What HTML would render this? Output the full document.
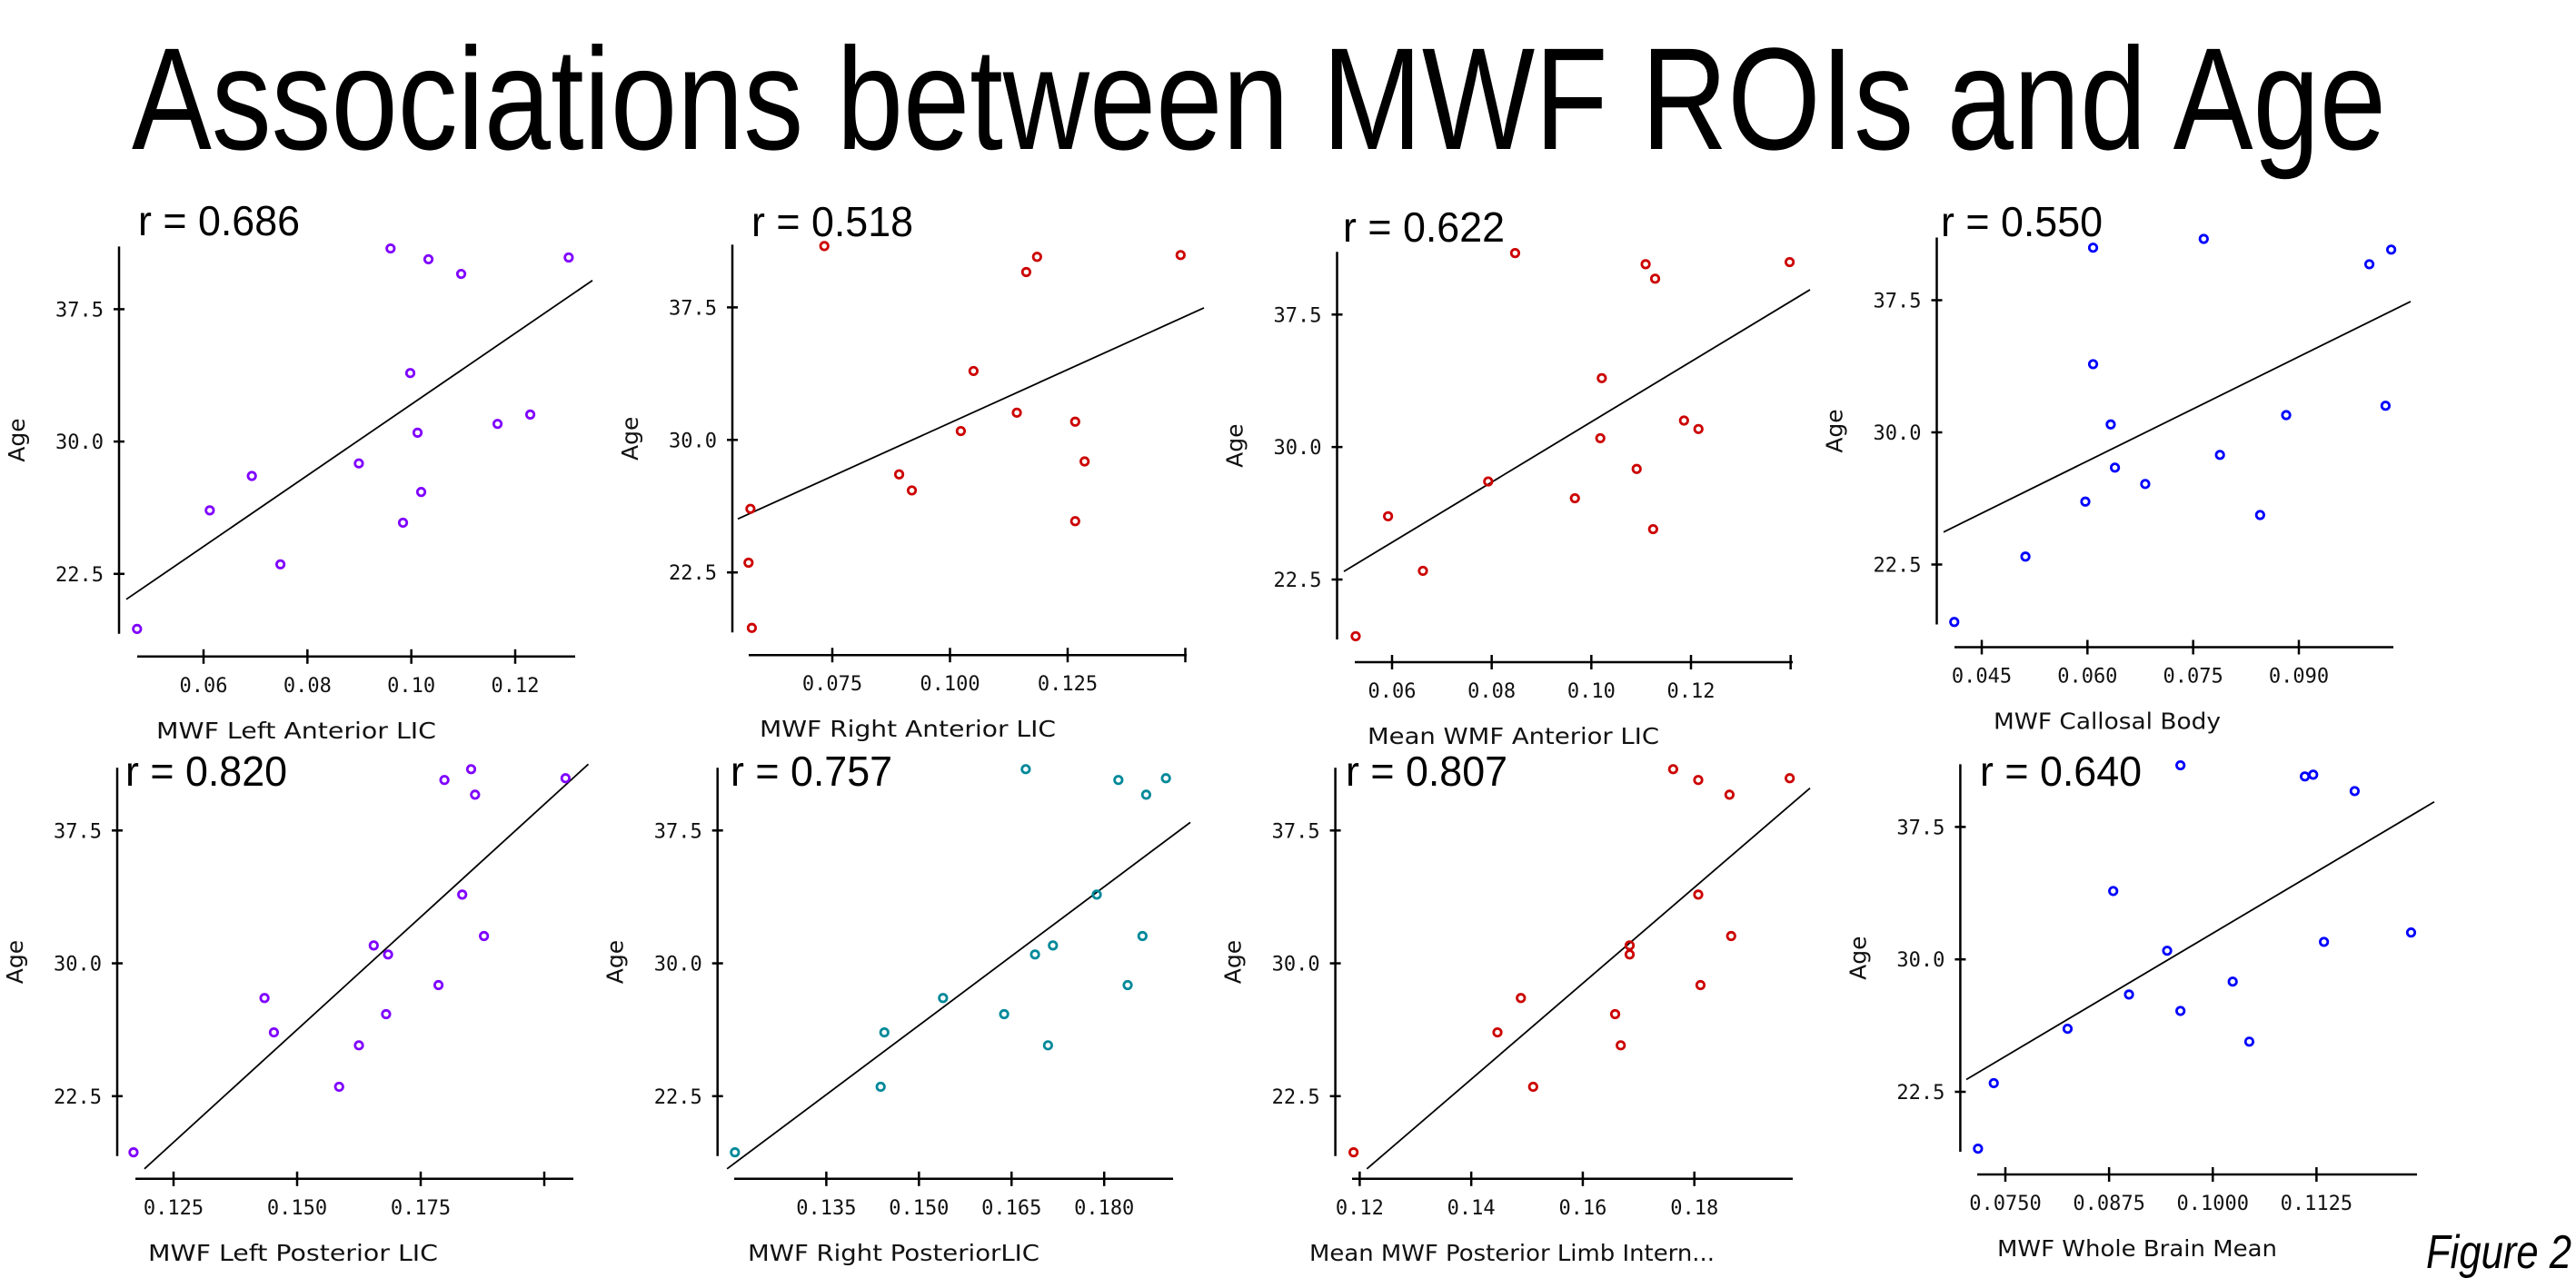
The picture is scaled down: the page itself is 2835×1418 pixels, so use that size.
<!DOCTYPE html>
<html><head><meta charset="utf-8"><style>
html,body{margin:0;padding:0;background:#fff;width:2835px;height:1418px;overflow:hidden;}
svg{display:block;}
.tk{font-family:"DejaVu Sans Mono","Liberation Mono",monospace;font-size:22px;fill:#111;}
.ax{font-family:"DejaVu Sans","Liberation Sans",sans-serif;font-size:25px;fill:#111;}
</style></head>
<body>
<svg id="fig" width="2835" height="1418" viewBox="0 0 2835 1418" xmlns="http://www.w3.org/2000/svg" overflow="hidden">
<text x="145" y="164" font-family="Liberation Sans, sans-serif" font-size="160" textLength="2481" lengthAdjust="spacingAndGlyphs" fill="#000">Associations between MWF ROIs and Age</text>
<text x="2670" y="1396" font-family="Liberation Sans, sans-serif" font-style="italic" font-size="52" textLength="160" lengthAdjust="spacingAndGlyphs" fill="#000">Figure 2</text>
<g id="panels"></g>
</svg>
<script>
// ---- data ----
const p1X = [0.0472,0.0612,0.0693,0.0748,0.0899,0.0960,0.0984,0.0998,0.1012,0.1019,0.1033,0.1096,0.1166,0.1229,0.1303];
const p1Y = [19.38,26.10,28.05,23.04,28.76,40.94,25.40,33.88,30.50,27.14,40.33,39.50,31.00,31.53,40.43];
const p2X = [0.0579,0.0572,0.0576,0.0733,0.0892,0.0919,0.1023,0.1050,0.1142,0.1162,0.1185,0.1266,0.1266,0.1286,0.1490];
const p2Y = [19.36,23.05,26.10,40.97,28.05,27.14,30.50,33.90,31.54,39.50,40.36,31.03,25.40,28.78,40.46];
const p3X = [0.0527,0.0592,0.0662,0.0793,0.0847,0.0967,0.1018,0.1021,0.1091,0.1109,0.1124,0.1128,0.1186,0.1215,0.1398];
const p3Y = [19.29,26.08,22.99,28.05,40.98,27.10,30.50,33.90,28.76,40.35,25.35,39.53,31.50,31.02,40.47];
const p4X = [0.0411,0.0512,0.0597,0.0608,0.0608,0.0633,0.0639,0.0682,0.0765,0.0788,0.0845,0.0882,0.1000,0.1023,0.1031];
const p4Y = [19.24,22.95,26.07,40.48,33.87,30.45,28.00,27.07,40.98,28.72,25.31,30.98,39.54,31.51,40.37];
const p5X = [0.1169,0.1585,0.1434,0.1453,0.1625,0.1680,0.1655,0.1684,0.1786,0.1834,0.1878,0.1798,0.1852,0.1860,0.2043];
const p5Y = [19.33,23.03,28.04,26.10,25.37,27.13,31.01,30.50,28.77,33.88,31.54,40.35,40.96,39.52,40.45];
const p6X = [0.1202,0.1438,0.1444,0.1539,0.1638,0.1673,0.1688,0.1709,0.1717,0.1788,0.1823,0.1838,0.1862,0.1868,0.1900];
const p6Y = [19.33,23.03,26.10,28.04,27.13,40.96,30.50,25.37,31.01,33.88,40.35,28.77,31.54,39.52,40.45];
const p7X = [0.1189,0.1447,0.1489,0.1511,0.1658,0.1668,0.1684,0.1684,0.1762,0.1807,0.1807,0.1811,0.1863,0.1866,0.1971];
const p7Y = [19.33,26.10,28.04,23.03,27.13,25.37,31.01,30.50,40.96,40.35,33.88,28.77,39.52,31.54,40.45];
const p8X = [0.0717,0.0736,0.0825,0.0880,0.0899,0.0945,0.0961,0.0961,0.1024,0.1044,0.1111,0.1121,0.1134,0.1171,0.1239];
const p8Y = [19.28,22.99,26.07,33.87,28.01,30.49,40.99,27.08,28.74,25.34,40.36,40.46,30.99,39.53,31.52];
const rLabels = ["r = 0.686","r = 0.518","r = 0.622","r = 0.550","r = 0.820","r = 0.757","r = 0.807","r = 0.640"];
const xTitles = ["MWF Left Anterior LIC","MWF Right Anterior LIC","Mean WMF Anterior LIC","MWF Callosal Body","MWF Left Posterior LIC","MWF Right PosteriorLIC","Mean MWF Posterior Limb Intern...","MWF Whole Brain Mean"];
const xTicks1 = [0.06,0.08,0.10,0.12];
const xTickLabels1 = ["0.06","0.08","0.10","0.12"];
const xTicks2 = [0.075,0.100,0.125,0.150];
const xTickLabels2 = ["0.075","0.100","0.125",""];
const xTicks3 = [0.06,0.08,0.10,0.12,0.14];
const xTickLabels3 = ["0.06","0.08","0.10","0.12",""];
const xTicks4 = [0.045,0.060,0.075,0.090];
const xTickLabels4 = ["0.045","0.060","0.075","0.090"];
const xTicks5 = [0.125,0.150,0.175,0.200];
const xTickLabels5 = ["0.125","0.150","0.175",""];
const xTicks6 = [0.135,0.150,0.165,0.180];
const xTickLabels6 = ["0.135","0.150","0.165","0.180"];
const xTicks7 = [0.12,0.14,0.16,0.18];
const xTickLabels7 = ["0.12","0.14","0.16","0.18"];
const xTicks8 = [0.075,0.0875,0.100,0.1125];
const xTickLabels8 = ["0.0750","0.0875","0.1000","0.1125"];
const yTicks = [22.5,30.0,37.5];
const yTickLabels = ["22.5","30.0","37.5"];

// ---- layout (pixels) ----
const layout = [
 {ax:131, y37:340.4, y22:631.8, xl:151, xr:633, v0:0.06, p0:224, v1:0.12, p1:567, rx:152, ry:259, tx:172, tl:308, col:"#7f00ff"},
 {ax:806, y37:338.4, y22:630.2, xl:824, xr:1306, v0:0.075, p0:916, v1:0.125, p1:1175, rx:827, ry:260, tx:836, tl:326, col:"#cc0000"},
 {ax:1471.5, y37:346.3, y22:638, xl:1491, xr:1973, v0:0.06, p0:1532, v1:0.12, p1:1861, rx:1478, ry:266, tx:1505, tl:321, col:"#cc0000"},
 {ax:2131.5, y37:330.5, y22:621.5, xl:2151, xr:2634, v0:0.045, p0:2181, v1:0.09, p1:2530, rx:2136, ry:260, tx:2194, tl:250, col:"#0000ff"},
 {ax:129, y37:914.3, y22:1206.8, xl:149, xr:631, v0:0.125, p0:191, v1:0.2, p1:599, rx:138, ry:865, tx:163, tl:319, col:"#7f00ff"},
 {ax:789.7, y37:914.3, y22:1206.8, xl:808, xr:1291, v0:0.135, p0:909.4, v1:0.18, p1:1215.2, rx:804, ry:865, tx:823, tl:321, col:"#00899a"},
 {ax:1469.6, y37:914.3, y22:1206.8, xl:1488, xr:1973, v0:0.12, p0:1496.4, v1:0.18, p1:1864.7, rx:1481, ry:865, tx:1441, tl:446, col:"#cc0000"},
 {ax:2157.4, y37:910.4, y22:1202, xl:2176, xr:2660, v0:0.075, p0:2207, v1:0.1125, p1:2549.4, rx:2179, ry:865, tx:2198, tl:308, col:"#0000ff"}
];
const allX = [p1X,p2X,p3X,p4X,p5X,p6X,p7X,p8X];
const allY = [p1Y,p2Y,p3Y,p4Y,p5Y,p6Y,p7Y,p8Y];
const allTicks = [xTicks1,xTicks2,xTicks3,xTicks4,xTicks5,xTicks6,xTicks7,xTicks8];
const allTickLabels = [xTickLabels1,xTickLabels2,xTickLabels3,xTickLabels4,xTickLabels5,xTickLabels6,xTickLabels7,xTickLabels8];

const NS = "http://www.w3.org/2000/svg";
function mk(tag, attrs, parent){
  const e = document.createElementNS(NS, tag);
  for (const k in attrs) e.setAttribute(k, attrs[k]);
  parent.appendChild(e);
  return e;
}
const root = document.getElementById('panels');

layout.forEach((L, i) => {
  const xs = allX[i], ys = allY[i];
  const xScale = v => L.p0 + (v - L.v0) * (L.p1 - L.p0) / (L.v1 - L.v0);
  const xInv = p => L.v0 + (p - L.p0) * (L.v1 - L.v0) / (L.p1 - L.p0);
  const yScale = v => L.y37 + (37.5 - v) * (L.y22 - L.y37) / 15;
  const yInv = p => 37.5 - (p - L.y37) * 15 / (L.y22 - L.y37);
  const g = mk('g', {}, root);
  
  

  const top = L.y37 - 69, bot = L.y22 + 66, xa = L.y22 + 91;
  const ya = mk('line', {x1:L.ax, y1:top, x2:L.ax, y2:bot, stroke:'#000', 'stroke-width':2.5}, g);
  
  
  yTicks.forEach((t, j) => {
    const y = yScale(t);
    const tl = mk('line', {x1:L.ax-6, y1:y, x2:L.ax+6, y2:y, stroke:'#000', 'stroke-width':2.5}, g);
    
    
    const tx = mk('text', {x:L.ax-17, y:y+8, 'text-anchor':'end', class:'tk'}, g);
    tx.textContent = yTickLabels[j];
    
    
  });
  const yt = mk('text', {x:0, y:0, 'text-anchor':'middle', class:'ax', transform:`translate(${L.ax-104},${(top+bot)/2}) rotate(-90)`}, g);
  yt.textContent = 'Age';
  
  

  const xl = mk('line', {x1:L.xl, y1:xa, x2:L.xr, y2:xa, stroke:'#000', 'stroke-width':2.5}, g);
  
  
  allTicks[i].forEach((t, j) => {
    const x = xScale(t);
    const tl = mk('line', {x1:x, y1:xa-8, x2:x, y2:xa+8, stroke:'#000', 'stroke-width':2.5}, g);
    
    
    if (allTickLabels[i][j]) {
      const tx = mk('text', {x:x, y:xa+39, 'text-anchor':'middle', class:'tk'}, g);
      tx.textContent = allTickLabels[i][j];
      
      
    }
  });
  const xt = mk('text', {x:L.tx, y:xa+90, class:'ax', textLength:L.tl, lengthAdjust:'spacingAndGlyphs'}, g);
  xt.textContent = xTitles[i];
  
  

  // least-squares regression line, clipped analytically to the plot box
  const n = xs.length;
  const mx = xs.reduce((a,b)=>a+b,0)/n, my = ys.reduce((a,b)=>a+b,0)/n;
  let sxy = 0, sxx = 0;
  for (let k = 0; k < n; k++){ sxy += (xs[k]-mx)*(ys[k]-my); sxx += (xs[k]-mx)*(xs[k]-mx); }
  const b = sxy/sxx, a = my - b*mx;
  let vx0 = xInv(L.xl - 12), vx1 = xInv(L.xr + 19);
  const ageMin = yInv(L.y22 + 80), ageMax = yInv(L.y37 - 73);
  if (b > 0) {
    vx0 = Math.max(vx0, (ageMin - a) / b);
    vx1 = Math.min(vx1, (ageMax - a) / b);
  }
  const rl = mk('line', {x1:xScale(vx0), y1:yScale(a+b*vx0), x2:xScale(vx1), y2:yScale(a+b*vx1), stroke:'#000', 'stroke-width':1.8}, g);
  
  

  xs.forEach((v, k) => {
    const c = mk('circle', {cx:xScale(v), cy:yScale(ys[k]), r:4.2, fill:'none', stroke:L.col, 'stroke-width':2.8}, g);
    
    
  });

  const r = mk('text', {x:L.rx, y:L.ry, 'font-family':'Liberation Sans, sans-serif', 'font-size':46, textLength:178, lengthAdjust:'spacingAndGlyphs', fill:'#000'}, g);
  r.textContent = rLabels[i];
  
  
});
</script>
</body></html>
